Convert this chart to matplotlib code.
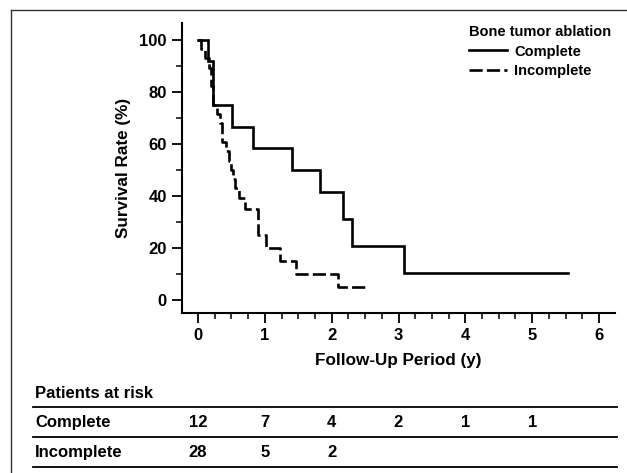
import matplotlib
matplotlib.use("Agg")
import matplotlib.pyplot as plt
from matplotlib.lines import Line2D
from matplotlib.transforms import blended_transform_factory
import numpy as np

plt.rcParams['font.family'] = ['Liberation Sans', 'DejaVu Sans']
plt.rcParams['font.weight'] = 'bold'

# ---- data ----
complete_times = [0.0, 0.15, 0.23, 0.51, 0.83, 1.40, 1.83, 2.17, 2.30, 3.08, 5.53]
complete_surv = [100.0, 91.7, 75.0, 66.7, 58.3, 50.0, 41.7, 31.3, 20.8, 10.4, 10.4]

incomplete_times = [0.0, 0.05, 0.10, 0.17, 0.20, 0.22, 0.28, 0.33, 0.36, 0.42, 0.46,
                    0.50, 0.53, 0.56, 0.62, 0.70, 0.90, 1.02, 1.22, 1.47, 2.10, 2.55]
incomplete_surv = [100.0, 96.4, 92.9, 89.3, 82.1, 75.0, 71.4, 67.9, 60.7, 57.1, 53.6,
                   50.0, 46.4, 42.9, 39.3, 35.0, 25.0, 20.0, 15.0, 10.0, 5.0, 5.0]

series_labels = ['Complete', 'Incomplete']
legend_title = 'Bone tumor ablation'

x_ticks = [0, 1, 2, 3, 4, 5, 6]
y_ticks = [0, 20, 40, 60, 80, 100]

risk_times = [0, 1, 2, 3, 4, 5]
risk_complete = [12, 7, 4, 2, 1, 1]
risk_incomplete = [28, 5, 2]

# ---- figure ----
W, H = 627, 473
fig = plt.figure(figsize=(W / 100, H / 100), dpi=100)

def fx(px):
    return px / W

def fy(py):
    return 1 - py / H

ax = fig.add_axes([fx(182), fy(313), fx(615) - fx(182), fy(23) - fy(313)])

lw = 1.9
ax.step(complete_times, complete_surv, where='post', color='black', lw=lw,
        label=series_labels[0], solid_joinstyle='miter')
ax.step(incomplete_times, incomplete_surv, where='post', color='black', lw=lw,
        label=series_labels[1], linestyle=(0, (5, 1.6)))

ax.set_xlim(-0.24, 6.24)
ax.set_ylim(-5, 106.5)
for s in ['top', 'right']:
    ax.spines[s].set_visible(False)
for s in ['left', 'bottom']:
    ax.spines[s].set_linewidth(1.5)

ax.set_xticks(x_ticks)
ax.set_xticklabels([str(v) for v in x_ticks])
ax.set_yticks(y_ticks)
ax.set_yticklabels([str(v) for v in y_ticks])
ax.set_xticks(np.arange(0, 6.01, 0.25), minor=True)
ax.set_yticks(np.arange(0, 101, 10), minor=True)
ax.tick_params(which='major', length=7, width=1.3, direction='out', labelsize=12, pad=4)
ax.tick_params(which='minor', length=4, width=1.1, direction='out')
for lab in ax.get_xticklabels() + ax.get_yticklabels():
    lab.set_fontweight('bold')

ax.set_xlabel('Follow-Up Period (y)', fontsize=12.3, fontweight='bold', labelpad=7)
ax.set_ylabel('Survival Rate (%)', fontsize=12.3, fontweight='bold', labelpad=6)

leg = ax.legend(title=legend_title, loc='upper left',
                bbox_to_anchor=(fx(469), fy(25)), bbox_transform=fig.transFigure,
                frameon=False, fontsize=10.5, title_fontproperties={'size': 10.5, 'weight': 'bold'},
                alignment='left', handlelength=2.6, handletextpad=0.5,
                labelspacing=0.38, borderpad=0, borderaxespad=0)
for t in leg.get_texts():
    t.set_fontweight('bold')

# ---- figure border (left and top) ----
fig.add_artist(Line2D([fx(11), fx(11)], [fy(10), 0], transform=fig.transFigure,
                      color='#333333', lw=1.0))
fig.add_artist(Line2D([fx(11), 1], [fy(10), fy(10)], transform=fig.transFigure,
                      color='#333333', lw=1.0))

# ---- patients at risk table ----
tfs = 12
fig.text(fx(35), fy(393), 'Patients at risk', fontsize=tfs, fontweight='bold',
         ha='left', va='center')
for py in [406.5, 437, 467]:
    fig.add_artist(Line2D([fx(33), fx(617)], [fy(py), fy(py)], transform=fig.transFigure,
                          color='black', lw=1.3))
fig.text(fx(35), fy(422.5), series_labels[0], fontsize=tfs, fontweight='bold',
         ha='left', va='center')
fig.text(fx(35), fy(452), series_labels[1], fontsize=tfs, fontweight='bold',
         ha='left', va='center')

trans = blended_transform_factory(ax.transData, fig.transFigure)
for t, n in zip(risk_times, risk_complete):
    ax.text(t, fy(422.5), str(n), transform=trans, fontsize=tfs, fontweight='bold',
            ha='center', va='center', clip_on=False)
for t, n in zip(risk_times, risk_incomplete):
    ax.text(t, fy(452), str(n), transform=trans, fontsize=tfs, fontweight='bold',
            ha='center', va='center', clip_on=False)

fig.savefig('out.png', dpi=100)
